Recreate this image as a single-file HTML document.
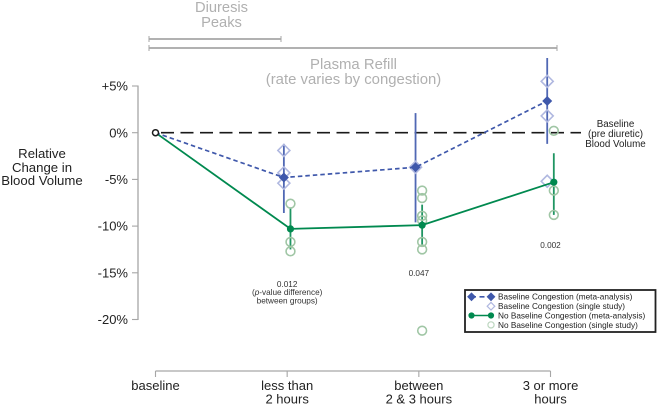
<!DOCTYPE html>
<html lang="en">
<head>
<meta charset="utf-8">
<title>Relative Change in Blood Volume</title>
<style>
html,body{margin:0;padding:0;background:#fff;}
svg{display:block;font-family:"Liberation Sans",sans-serif;}
</style>
</head>
<body>
<svg id="chart" width="658" height="405" viewBox="0 0 658 405" xmlns="http://www.w3.org/2000/svg"></svg>
<script>
const categories = [["baseline"], ["less than", "2 hours"], ["between", "2 & 3 hours"], ["3 or more", "hours"]];
const yTicks = [5, 0, -5, -10, -15, -20];
const yTickLabels = ["+5%", "0%", "-5%", "-10%", "-15%", "-20%"];
const congestionMeans = [0, -4.8, -3.7, 3.4];
const congestionCiHigh = [null, -1.2, 2.1, 8.0];
const congestionCiLow = [null, -8.6, -9.6, -1.2];
const noCongestionMeans = [0, -10.3, -9.9, -5.3];
const noCongestionCiHigh = [null, -8.0, -7.7, -2.2];
const noCongestionCiLow = [null, -12.5, -12.1, -8.8];
const congestionStudies = [[1, -1.9], [1, -4.3], [1, -5.4], [2, -3.7], [3, 5.5], [3, 1.8], [3, -5.2]];
const noCongestionStudies = [[1, -7.6], [1, -11.7], [1, -12.7], [2, -6.2], [2, -7.0], [2, -8.9], [2, -9.4], [2, -11.7], [2, -12.5], [2, -21.2], [3, 0.2], [3, -6.2], [3, -8.8]];
const pValues = [[1, "0.012"], [2, "0.047"], [3, "0.002"]];

const NS = "http://www.w3.org/2000/svg";
const svg = document.getElementById("chart");
const BLUE = "#3f58ab", BLUE_LIGHT = "#b0b8e0", GREEN = "#00894f", GREEN_LIGHT = "#a0c6a5", GRAY = "#a6a6a6", INK = "#222";

function xCat(i) { return 155.5 + i * 131.67; }
function xBlue(i) { return xCat(i) - 3.3; }
function xGreen(i) { return xCat(i) + 3.3; }
function yVal(v) { return 132.7 - v * 9.34; }

function add(tag, attrs, text) {
  const el = document.createElementNS(NS, tag);
  for (const k in attrs) el.setAttribute(k, attrs[k]);
  if (text !== undefined) el.textContent = text;
  svg.appendChild(el);
  return el;
}
function line(x1, y1, x2, y2, stroke, w, dash) {
  const a = { x1: x1, y1: y1, x2: x2, y2: y2, stroke: stroke, "stroke-width": w };
  if (dash) a["stroke-dasharray"] = dash;
  return add("line", a);
}
function label(x, y, str, size, fill, anchor) {
  return add("text", { x: x, y: y, "font-size": size, fill: fill, "text-anchor": anchor || "middle" }, str);
}
function diamond(cx, cy, r, fill, stroke, w) {
  return add("polygon", {
    points: (cx - r) + "," + cy + " " + cx + "," + (cy - r) + " " + (cx + r) + "," + cy + " " + cx + "," + (cy + r),
    fill: fill, stroke: stroke, "stroke-width": w
  });
}
function circle(cx, cy, r, fill, stroke, w) {
  return add("circle", { cx: cx, cy: cy, r: r, fill: fill, stroke: stroke, "stroke-width": w });
}
function name(el, n, interactive) {
  
  
  return el;
}

/* annotations at the top */
name(label(221.5, 12, "Diuresis", 14.7, "#b0b0b0"), "diuresis-label");
name(label(221.5, 27, "Peaks", 14.7, "#b0b0b0"), "peaks-label");
name(line(149, 39, 281, 39, GRAY, 1.7), "diuresis-bracket");
name(line(149, 36, 149, 42, GRAY, 1), "diuresis-bracket-left");
name(line(281, 36, 281, 42, GRAY, 1), "diuresis-bracket-right");
name(line(149, 48, 557, 48, GRAY, 1.7), "plasma-refill-bracket");
name(line(149, 45, 149, 51, GRAY, 1), "plasma-refill-bracket-left");
name(line(557, 45, 557, 51, GRAY, 1), "plasma-refill-bracket-right");
name(label(353.5, 69, "Plasma Refill", 14.9, "#b0b0b0"), "plasma-refill-label");
name(label(353.5, 84, "(rate varies by congestion)", 14.9, "#b0b0b0"), "plasma-refill-note");

/* y axis */
name(line(138, yVal(yTicks[0]) - 0.5, 138, yVal(yTicks[yTicks.length - 1]) + 0.5, GRAY, 1.3), "y-axis-line");
yTicks.forEach(function (t, i) {
  name(line(132, yVal(t), 138, yVal(t), GRAY, 1.1), "y-tick");
  name(label(128, yVal(t) + 4.6, yTickLabels[i], 13, INK, "end"), "y-tick-label");
});
name(label(42, 158, "Relative", 13.2, INK), "y-axis-title-line-1");
name(label(42, 172, "Change in", 13.2, INK), "y-axis-title-line-2");
name(label(42, 185, "Blood Volume", 13.2, INK), "y-axis-title-line-3");

/* x axis */
name(line(xCat(0), 371, xCat(categories.length - 1), 371, GRAY, 1.2), "x-axis-line");
categories.forEach(function (lines, i) {
  name(line(xCat(i), 371, xCat(i), 377, GRAY, 1.1), "x-tick");
  lines.forEach(function (s, j) {
    name(label(xCat(i), 390 + j * 13.5, s, 13, INK), "x-tick-label");
  });
});

/* baseline reference */
name(line(161, yVal(0), 581, yVal(0), "#1a1a1a", 1.7, "13 6.5"), "baseline-reference-line");
name(label(615.5, 127, "Baseline", 9.8, INK), "baseline-note-line-1");
name(label(615.5, 137, "(pre diuretic)", 9.8, INK), "baseline-note-line-2");
name(label(615.5, 147, "Blood Volume", 9.8, INK), "baseline-note-line-3");

/* confidence intervals */
congestionMeans.forEach(function (v, i) {
  if (congestionCiHigh[i] === null) return;
  name(line(xBlue(i), yVal(congestionCiHigh[i]), xBlue(i), yVal(congestionCiLow[i]), "#5068b4", 1.8), "congestion-ci");
});
noCongestionMeans.forEach(function (v, i) {
  if (noCongestionCiHigh[i] === null) return;
  name(line(xGreen(i), yVal(noCongestionCiHigh[i]), xGreen(i), yVal(noCongestionCiLow[i]), "#1f9562", 1.8), "no-congestion-ci");
});

/* single study points */
congestionStudies.forEach(function (p) {
  name(diamond(xBlue(p[0]), yVal(p[1]), 6, "none", BLUE_LIGHT, 1.6), "congestion-study-point");
});
noCongestionStudies.forEach(function (p) {
  name(circle(xGreen(p[0]), yVal(p[1]), 4.4, "none", GREEN_LIGHT, 1.6), "no-congestion-study-point");
});

/* meta-analysis lines */
name(add("polyline", {
  points: noCongestionMeans.map(function (v, i) { return (i === 0 ? xCat(0) : xGreen(i)) + "," + yVal(v); }).join(" "),
  fill: "none", stroke: GREEN, "stroke-width": 1.8
}), "no-congestion-line");
name(add("polyline", {
  points: congestionMeans.map(function (v, i) { return (i === 0 ? xCat(0) : xBlue(i)) + "," + yVal(v); }).join(" "),
  fill: "none", stroke: BLUE, "stroke-width": 1.7, "stroke-dasharray": "4.5 3"
}), "congestion-line");
congestionMeans.forEach(function (v, i) {
  if (i === 0) return;
  name(diamond(xBlue(i), yVal(v), 5, BLUE, "none", 0), "congestion-mean-point");
});
noCongestionMeans.forEach(function (v, i) {
  if (i === 0) return;
  name(circle(xGreen(i), yVal(v), 3.6, GREEN, "none", 0), "no-congestion-mean-point");
});
name(circle(xCat(0), yVal(0), 3, "#fff", "#1a1a1a", 1.5), "baseline-point");

/* p values */
const pY = { 1: 287, 2: 276, 3: 248 };
pValues.forEach(function (p) {
  name(label(xCat(p[0]), pY[p[0]], p[1], 8.2, "#333"), "p-value");
});
const pNote = name(label(xCat(1), 295, "(", 8.2, "#333"), "p-value-note-line-1");
const pItalic = document.createElementNS(NS, "tspan");
pItalic.setAttribute("font-style", "italic");
pItalic.textContent = "p";
pNote.appendChild(pItalic);
pNote.appendChild(document.createTextNode("-value difference)"));
name(label(xCat(1), 303.5, "between groups)", 8.2, "#333"), "p-value-note-line-2");

/* legend */
name(add("rect", { x: 465, y: 290, width: 190.5, height: 42, fill: "#fff", stroke: "#222", "stroke-width": 1.8 }), "legend-box");
const legendRows = [296.8, 306.2, 315.5, 324.9];
const legendText = ["Baseline Congestion (meta-analysis)", "Baseline Congestion (single study)", "No Baseline Congestion (meta-analysis)", "No Baseline Congestion (single study)"];
name(line(471, legendRows[0], 491, legendRows[0], BLUE, 1.6, "5 3.5"), "legend-congestion-line");
name(diamond(471.5, legendRows[0], 4.4, BLUE, "none", 0), "legend-congestion-marker-left");
name(diamond(491, legendRows[0], 4.4, BLUE, "none", 0), "legend-congestion-marker-right");
name(diamond(491, legendRows[1], 3.8, "none", BLUE_LIGHT, 1.2), "legend-congestion-study-marker");
name(line(471, legendRows[2], 491, legendRows[2], GREEN, 1.6), "legend-no-congestion-line");
name(circle(471.5, legendRows[2], 3.1, GREEN, "none", 0), "legend-no-congestion-marker-left");
name(circle(491, legendRows[2], 3.1, GREEN, "none", 0), "legend-no-congestion-marker-right");
name(circle(491, legendRows[3], 3.1, "none", "#bcd6bf", 1.2), "legend-no-congestion-study-marker");
legendText.forEach(function (s, i) {
  name(label(498, legendRows[i] + 2.9, s, 8.25, INK, "start"), "legend-entry");
});
</script>
</body>
</html>
